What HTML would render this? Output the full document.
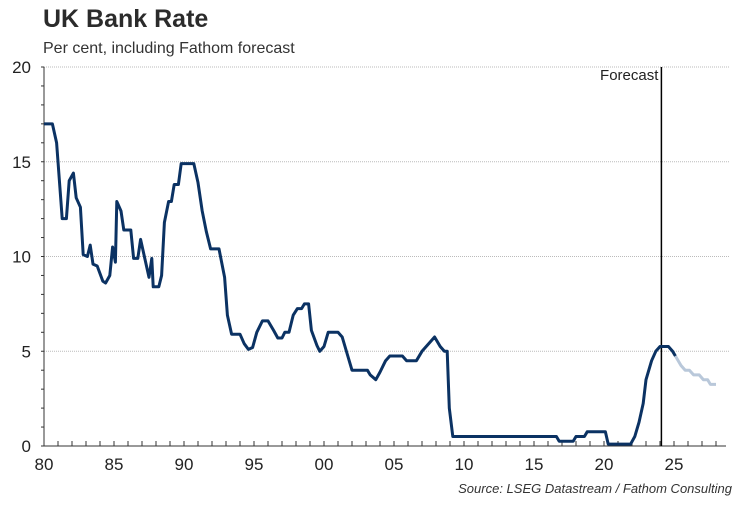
<!DOCTYPE html>
<html><head><meta charset="utf-8"><style>
body{margin:0;background:#fff;font-family:"Liberation Sans",Arial,sans-serif;}
svg text{font-family:"Liberation Sans",Arial,sans-serif;}
</style></head><body>
<svg width="750" height="500" viewBox="0 0 750 500">
<text x="43" y="27" font-size="25" font-weight="bold" fill="#2b2b2b">UK Bank Rate</text>
<text x="43" y="53" font-size="16" fill="#333">Per cent, including Fathom forecast</text>
<g id="grid"></g><g id="axes"></g><g id="series"></g>
<text x="732" y="493" font-size="13" font-style="italic" fill="#333" text-anchor="end">Source: LSEG Datastream / Fathom Consulting</text>
</svg>
<script>
const yTicks=[0,5,10,15,20];
const xTickYears=[1980,1985,1990,1995,2000,2005,2010,2015,2020,2025];
const xTickLabels=["80","85","90","95","00","05","10","15","20","25"];
const histYears=[1980.0,1980.6,1980.9,1981.1,1981.3,1981.6,1981.8,1982.1,1982.3,1982.6,1982.8,1983.1,1983.3,1983.5,1983.8,1984.2,1984.4,1984.7,1984.9,1985.1,1985.2,1985.5,1985.7,1986.2,1986.4,1986.7,1986.9,1987.2,1987.5,1987.7,1987.8,1988.2,1988.4,1988.6,1988.9,1989.1,1989.3,1989.6,1989.8,1990.7,1991.0,1991.3,1991.6,1991.9,1992.5,1992.9,1993.1,1993.4,1994.0,1994.3,1994.6,1994.9,1995.2,1995.6,1996.0,1996.4,1996.7,1997.0,1997.2,1997.5,1997.8,1998.1,1998.4,1998.6,1998.9,1999.1,1999.5,1999.7,2000.0,2000.3,2001.0,2001.3,2001.7,2002.0,2003.1,2003.3,2003.7,2004.0,2004.4,2004.7,2005.6,2005.9,2006.6,2007.0,2007.6,2007.9,2008.3,2008.6,2008.8,2008.95,2009.2,2016.6,2016.8,2017.8,2018.0,2018.6,2018.8,2020.1,2020.3,2021.9,2022.2,2022.5,2022.8,2023.0,2023.4,2023.7,2024.0,2024.6,2024.9,2025.1];
const histValues=[17,17,16,14,12,12,14,14.4,13.1,12.6,10.1,10,10.6,9.6,9.5,8.7,8.6,9.0,10.5,9.7,12.9,12.4,11.4,11.4,9.9,9.9,10.9,9.9,8.9,9.9,8.4,8.4,9,11.8,12.9,12.9,13.8,13.8,14.9,14.9,13.9,12.4,11.3,10.4,10.4,8.9,6.9,5.9,5.9,5.4,5.1,5.2,6.0,6.6,6.6,6.1,5.7,5.7,6.0,6.0,6.9,7.25,7.25,7.5,7.5,6.1,5.3,5.0,5.25,6.0,6.0,5.75,4.75,4.0,4.0,3.75,3.5,3.9,4.5,4.75,4.75,4.5,4.5,5.0,5.5,5.75,5.25,5.0,5.0,2.0,0.5,0.5,0.25,0.25,0.5,0.5,0.75,0.75,0.1,0.1,0.5,1.25,2.25,3.5,4.5,5.0,5.25,5.25,5.0,4.75];
const fcYears=[2025.1,2025.5,2025.8,2026.1,2026.4,2026.8,2027.1,2027.4,2027.6,2028.0];
const fcValues=[4.75,4.25,4.0,4.0,3.75,3.75,3.5,3.5,3.25,3.25];
const forecastYear=2024.1;
const NS="http://www.w3.org/2000/svg";
const X=y=>44+(y-1980)*14.0, Y=v=>446-v*18.95;
function mk(t,a,p){const e=document.createElementNS(NS,t);for(const k in a)e.setAttribute(k,a[k]);p.appendChild(e);return e;}
const grid=document.getElementById('grid'),axes=document.getElementById('axes'),ser=document.getElementById('series');
yTicks.forEach(v=>{
 if(v>0){const l=mk('line',{x1:44,x2:730,y1:Y(v),y2:Y(v),stroke:'#bbb','stroke-dasharray':'1,1'},grid);
 
 }
 const t=mk('text',{x:31,y:Y(v)+6,'font-size':17,'text-anchor':'end',fill:'#222'},axes);t.textContent=v;
 
 
});
for(let v=0;v<=20;v++){mk('line',{x1:41,x2:44,y1:Y(v),y2:Y(v),stroke:'#333'},axes);}
const ya=mk('line',{x1:44,x2:44,y1:Y(20),y2:446,stroke:'#333'},axes);


const xa=mk('line',{x1:44,x2:726,y1:446,y2:446,stroke:'#333'},axes);


for(let y=1980;y<=2028;y++){mk('line',{x1:X(y),x2:X(y),y1:446,y2:441,stroke:'#333'},axes);}
xTickYears.forEach((y,i)=>{const t=mk('text',{x:X(y),y:470,'font-size':17,'text-anchor':'middle',fill:'#222'},axes);t.textContent=xTickLabels[i];
 
 });
const fl=mk('line',{x1:X(forecastYear),x2:X(forecastYear),y1:Y(20),y2:446,stroke:'#000','stroke-width':1.5},axes);


const ft=mk('text',{x:X(forecastYear)-3,y:Y(20)+13,'font-size':15,'text-anchor':'end',fill:'#222'},axes);ft.textContent='Forecast';


const pts=(ys,vs)=>ys.map((y,i)=>X(y).toFixed(1)+','+Y(vs[i]).toFixed(1)).join(' ');
const fc=mk('polyline',{points:pts(fcYears,fcValues),fill:'none',stroke:'#b9c8da','stroke-width':3,'stroke-linejoin':'round'},ser);


const h=mk('polyline',{points:pts(histYears,histValues),fill:'none',stroke:'#0b3263','stroke-width':3,'stroke-linejoin':'round'},ser);


</script>
</body></html>
